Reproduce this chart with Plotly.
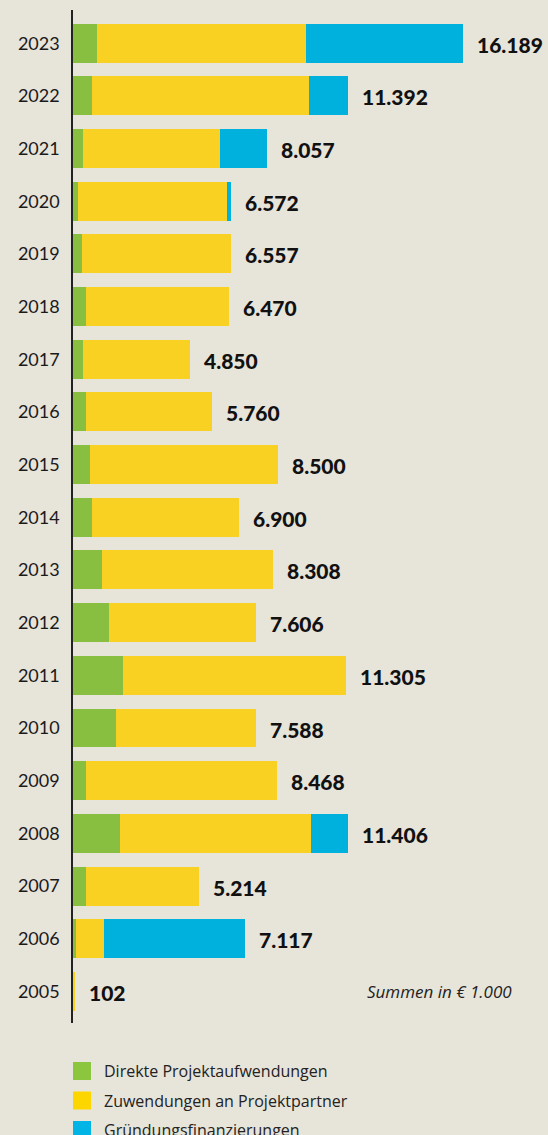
import plotly.graph_objects as go

years = ["2023", "2022", "2021", "2020", "2019", "2018", "2017", "2016", "2015", "2014",
         "2013", "2012", "2011", "2010", "2009", "2008", "2007", "2006", "2005"]
totals = [16189, 11392, 8057, 6572, 6557, 6470, 4850, 5760, 8500, 6900,
          8308, 7606, 11305, 7588, 8468, 11406, 5214, 7117, 102]
direkte = [990, 807, 434, 225, 378, 549, 422, 551, 705, 792,
           1210, 1509, 2059, 1767, 531, 1968, 530, 118, 0]
zuwendungen = [8662, 8987, 5670, 6151, 6179, 5921, 4428, 5209, 7795, 6108,
               7098, 6097, 9246, 5821, 7937, 7915, 4684, 1181, 102]
gruendung = [6537, 1598, 1953, 196, 0, 0, 0, 0, 0, 0,
             0, 0, 0, 0, 0, 1523, 0, 5818, 0]

series_names = ["Direkte Projektaufwendungen", "Zuwendungen an Projektpartner", "Gründungsfinanzierungen"]
series_colors = ["#88BF41", "#F8D122", "#00B1DE"]
legend_colors = ["#8CC63F", "#FDD600", "#00B4E6"]
note_text = "Summen in € 1.000"

BG = "#E7E4DA"
FONT = "Lato, 'Open Sans', sans-serif"
FONT2 = "'Open Sans', Lato, sans-serif"

W, H = 548, 1135
L, T, B, R = 73, 10, 112, 0
PW, PH = W - L - R, H - T - B

cat_order = years[::-1]  # bottom to top

fig = go.Figure()
for name, vals, col in zip(series_names, [direkte, zuwendungen, gruendung], series_colors):
    fig.add_trace(go.Bar(
        y=years, x=vals, orientation="h", name=name,
        marker=dict(color=col, line=dict(width=0)),
        showlegend=False, hoverinfo="x+y+name",
    ))

for yr, tot in zip(years, totals):
    fig.add_annotation(
        x=tot, y=cat_order.index(yr), xref="x", yref="y",
        text=f"{tot:,}".replace(",", "."),
        showarrow=False, xanchor="left", yanchor="middle",
        xshift=12, yshift=-1,
        font=dict(family=FONT, size=21, color="#111111", weight=900),
    )

fig.add_annotation(
    x=(514 - L) / PW, y=cat_order.index("2005"), xref="paper", yref="y",
    text="<i>" + note_text + "</i>", showarrow=False,
    xanchor="right", yanchor="middle",
    font=dict(family=FONT2, size=17, color="#222222"),
)

# legend drawn manually to get large square swatches
for i, (name, col) in enumerate(zip(series_names, legend_colors)):
    yc = 1071 + i * 29.5
    y_top = 1 - (yc - 9 - T) / PH
    y_bot = 1 - (yc + 9 - T) / PH
    fig.add_shape(type="rect", xref="paper", yref="paper",
                  x0=0, x1=18 / PW, y0=y_bot, y1=y_top,
                  fillcolor=col, line=dict(width=0))
    fig.add_annotation(
        x=29 / PW, y=1 - (yc - T) / PH, xref="paper", yref="paper",
        text=name, showarrow=False, xanchor="left", yanchor="middle",
        font=dict(family=FONT2, size=16, color="#222222"),
    )

fig.update_layout(
    width=W, height=H,
    paper_bgcolor=BG, plot_bgcolor=BG,
    barmode="stack", bargap=0.26,
    margin=dict(l=L, r=R, t=T, b=B, pad=0),
    font=dict(family=FONT, color="#222222"),
    xaxis=dict(range=[0, 19700], visible=False, showgrid=False, zeroline=False, fixedrange=True),
    yaxis=dict(
        type="category", categoryorder="array", categoryarray=cat_order,
        range=[-0.6, 18.63],
        showline=True, linecolor="#222222", linewidth=1.5,
        showgrid=False, zeroline=False, ticks="",
        ticklabelstandoff=8,
        tickfont=dict(family=FONT, size=18, color="#1a1a1a"),
    ),
)

fig.write_html(
    "out.html",
    config={"displayModeBar": False},
    post_script="document.body.style.margin='0';document.body.style.overflow='hidden';",
)
